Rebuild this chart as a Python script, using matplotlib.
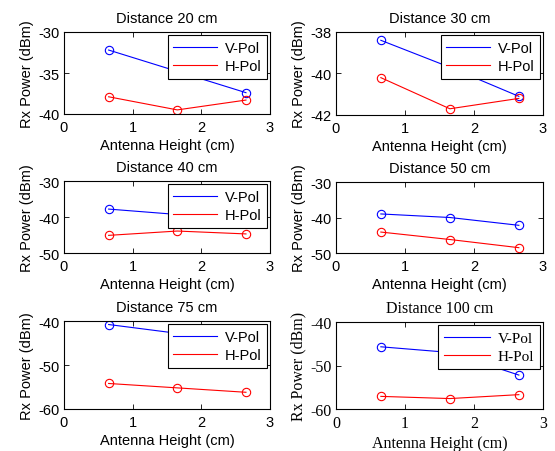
import matplotlib
matplotlib.use("Agg")
import matplotlib.pyplot as plt

plt.rcParams["axes.unicode_minus"] = False

heights = [0.65, 1.65, 2.65]
titles = ["Distance 20 cm", "Distance 30 cm", "Distance 40 cm",
          "Distance 50 cm", "Distance 75 cm", "Distance 100 cm"]
v_pol_20 = [-32.2, -34.8, -37.4]
h_pol_20 = [-37.9, -39.5, -38.3]
v_pol_30 = [-38.4, -39.7, -41.1]
h_pol_30 = [-40.2, -41.7, -41.2]
v_pol_40 = [-37.8, -39.3, -40.8]
h_pol_40 = [-45.1, -43.9, -44.7]
v_pol_50 = [-39.0, -40.0, -42.2]
h_pol_50 = [-44.1, -46.2, -48.5]
v_pol_75 = [-40.8, -42.8, -44.5]
h_pol_75 = [-54.2, -55.2, -56.2]
v_pol_100 = [-45.7, -47.0, -52.2]
h_pol_100 = [-57.1, -57.6, -56.7]
v_series = [v_pol_20, v_pol_30, v_pol_40, v_pol_50, v_pol_75, v_pol_100]
h_series = [h_pol_20, h_pol_30, h_pol_40, h_pol_50, h_pol_75, h_pol_100]
y_limits = [(-40, -30), (-42, -38), (-50, -30), (-50, -30), (-60, -40), (-60, -40)]
y_ticks = [[-40, -35, -30], [-42, -40, -38], [-50, -40, -30],
           [-50, -40, -30], [-60, -50, -40], [-60, -50, -40]]
x_ticks = [0, 1, 2, 3]
show_legend = [True, True, True, False, True, True]
legend_labels = ["V-Pol", "H-Pol"]
x_label = "Antenna Height (cm)"
y_label = "Rx Power (dBm)"

W, H = 555, 452
boxes = [(64, 270, 33, 115), (336, 543, 33, 116),
         (64, 270, 182, 254), (336, 543, 183, 254),
         (64, 270, 322, 410), (336, 543, 323, 410)]

fig = plt.figure(figsize=(W / 100, H / 100), dpi=100)
fig.patch.set_facecolor("white")

for i in range(6):
    l, r, t, b = boxes[i]
    ax = fig.add_axes([l / W, 1 - b / H, (r - l) / W, (b - t) / H])
    serif = i == 5
    fam = ["Liberation Serif"] if serif else ["Liberation Sans"]
    fs = 11.5 if serif else 10.5
    lfs = 11 if serif else 10.5
    ax.plot(heights, v_series[i], color="blue", lw=0.8, marker="o",
            ms=6, mfc="none", mew=0.8, label=legend_labels[0])
    ax.plot(heights, h_series[i], color="red", lw=0.8, marker="o",
            ms=6, mfc="none", mew=0.8, label=legend_labels[1])
    ax.set_xlim(0, 3)
    ax.set_ylim(*y_limits[i])
    ax.set_xticks(x_ticks)
    ax.set_yticks(y_ticks[i])
    ax.tick_params(direction="in", top=True, right=True, length=3.5,
                   width=0.6, labelsize=fs, pad=3)
    ax.tick_params(axis="x", pad=4)
    for lab in ax.get_xticklabels() + ax.get_yticklabels():
        lab.set_family(fam)
    for s in ax.spines.values():
        s.set_linewidth(0.8)
    ax.set_title(titles[i], fontsize=fs, family=fam, pad=7)
    ax.set_xlabel(x_label, fontsize=fs, family=fam, labelpad=3)
    ax.set_ylabel(y_label, fontsize=fs, family=fam, labelpad=3)
    if show_legend[i]:
        leg = ax.legend(loc="upper right", fancybox=False, framealpha=1,
                        edgecolor="black", borderaxespad=0.2,
                        handlelength=3.0, handletextpad=0.5,
                        prop={"family": fam, "size": lfs},
                        labelspacing=0.3, borderpad=0.4)
        leg.get_frame().set_linewidth(0.8)
        for h in leg.legend_handles:
            h.set_marker("")

fig.savefig("out.png", dpi=100)
